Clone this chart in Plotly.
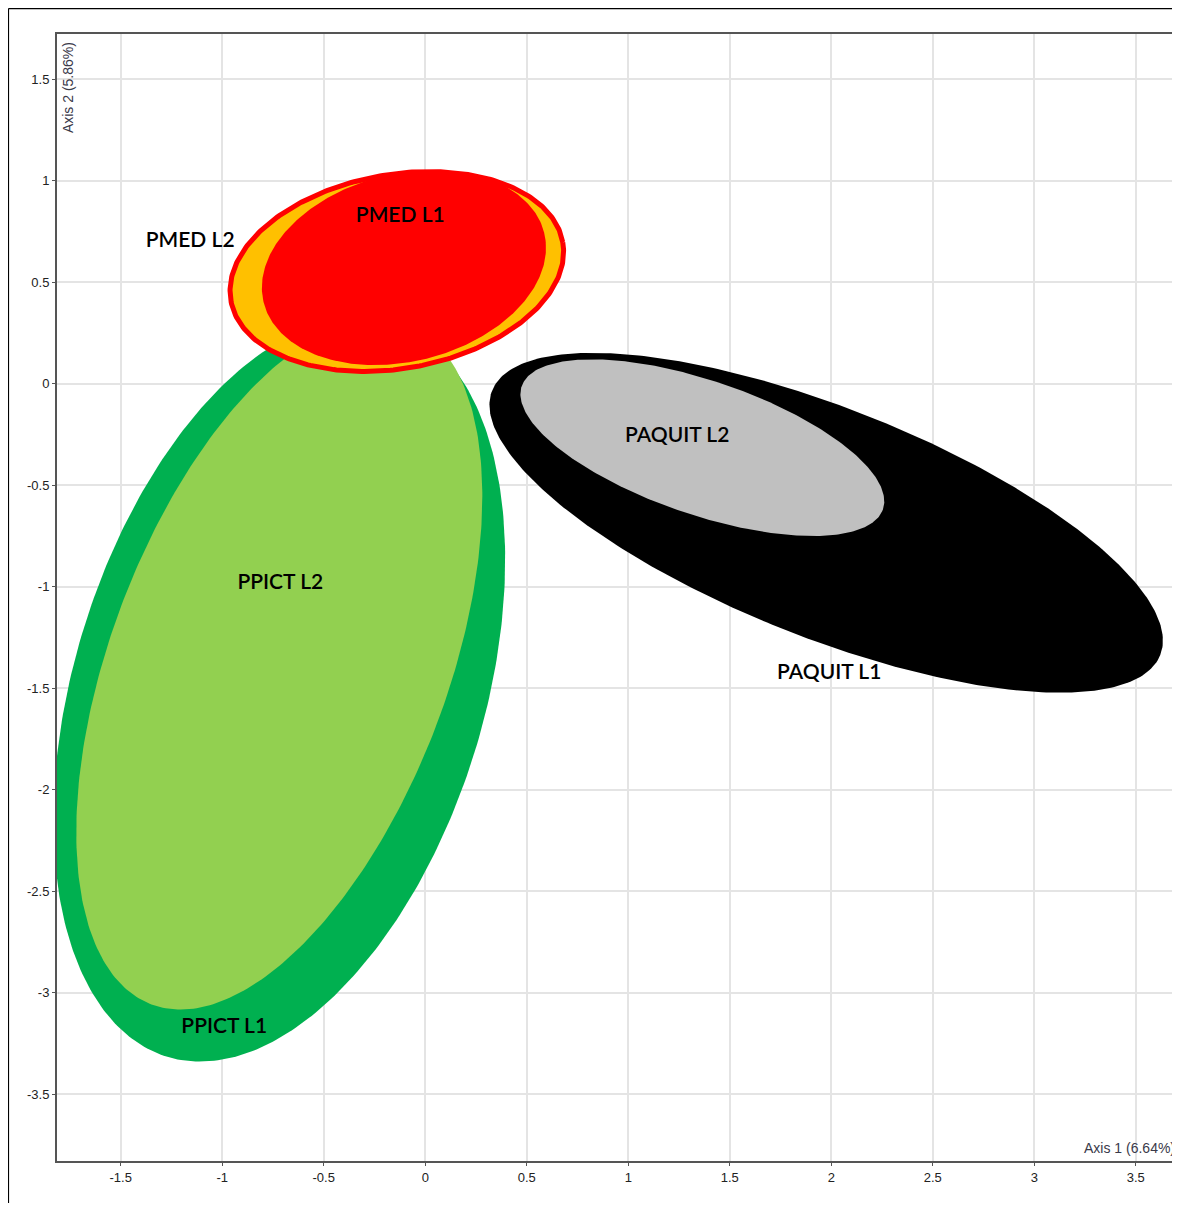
import numpy as np
import plotly.graph_objects as go

# ---- data: confidence ellipses (centre, semi-axes, rotation) ----
groups = ["PPICT L1", "PPICT L2", "PMED L2", "PMED L1", "PAQUIT L1", "PAQUIT L2"]
center_x = [-0.719, -0.719, -0.140, -0.105, 1.975, 1.365]
center_y = [-1.508, -1.382, 0.553, 0.572, -0.685, -0.315]
semi_major = [1.89, 1.79, 0.830, 0.712, 1.770, 0.940]
semi_minor = [1.01, 0.83, 0.478, 0.462, 0.565, 0.330]
angle_deg = [73.0, 69.4, 10.0, 14.0, -21.6, -18.8]

# ---- labels ----
label_text = ["PPICT L1", "PPICT L2", "PMED L2", "PMED L1", "PAQUIT L1", "PAQUIT L2"]
label_x = [-0.990, -0.714, -1.158, -0.123, 1.990, 1.241]
label_y = [-3.172, -0.985, 0.700, 0.822, -1.428, -0.261]

# ---- axis ticks ----
x_ticks = [-1.5, -1, -0.5, 0, 0.5, 1, 1.5, 2, 2.5, 3, 3.5]
y_ticks = [1.5, 1, 0.5, 0, -0.5, -1, -1.5, -2, -2.5, -3, -3.5]
x_title = "Axis 1 (6.64%)"
y_title = "Axis 2 (5.86%)"

# ---- styles ----
fill_color = {"PPICT L1": "#00B050", "PPICT L2": "#92D050", "PMED L2": "#FFC000",
              "PMED L1": "#FF0000", "PAQUIT L1": "#000000", "PAQUIT L2": "#C0C0C0"}
line_style = {"PMED L2": ("#FF0000", 5)}

fig = go.Figure()
t = np.linspace(0, 2 * np.pi, 361)
for g, cx, cy, a, b, ang in zip(groups, center_x, center_y, semi_major, semi_minor, angle_deg):
    th = np.deg2rad(ang)
    ex = cx + a * np.cos(t) * np.cos(th) - b * np.sin(t) * np.sin(th)
    ey = cy + a * np.cos(t) * np.sin(th) + b * np.sin(t) * np.cos(th)
    lc, lw = line_style.get(g, (fill_color[g], 0))
    fig.add_trace(go.Scatter(x=ex, y=ey, mode="lines", fill="toself",
                             fillcolor=fill_color[g],
                             line=dict(color=lc, width=lw),
                             hoverinfo="skip", showlegend=False, name=g))

fig.add_trace(go.Scatter(x=label_x, y=label_y, mode="text", text=label_text,
                         textfont=dict(family="Lato", size=21, color="#000000", weight=600),
                         hoverinfo="skip", showlegend=False))

x_range = [-1.814, 3.718]
y_range = [-3.829, 1.723]

# dashed zero lines (below the ellipses)
fig.add_shape(type="line", xref="x", yref="y", x0=0, x1=0, y0=y_range[0], y1=y_range[1],
              line=dict(color="#000000", width=1.3, dash="5px,4px"), layer="below")
fig.add_shape(type="line", xref="x", yref="y", x0=x_range[0], x1=x_range[1], y0=0, y1=0,
              line=dict(color="#000000", width=1.3, dash="5px,4px"), layer="below")

# outer frame of the picture (left + top edges)
fig.add_shape(type="line", xref="paper", yref="paper", x0=-0.0432, x1=1.02, y0=1.0226, y1=1.0226,
              line=dict(color="#000000", width=1.2))
fig.add_shape(type="line", xref="paper", yref="paper", x0=-0.0432, x1=-0.0432, y0=1.0226, y1=-0.1,
              line=dict(color="#000000", width=1.2))

axis_font = dict(family="Arial", size=13, color="#222222")
fig.update_layout(
    width=1172, height=1195,
    margin=dict(l=49, r=0, t=26, b=42),
    plot_bgcolor="#FFFFFF", paper_bgcolor="#FFFFFF",
    hovermode=False,
    xaxis=dict(range=x_range, tickvals=x_ticks, ticktext=[f"{v:g}" for v in x_ticks],
               showgrid=True, gridcolor="#E4E4E4", gridwidth=2, zeroline=False,
               showline=True, linecolor="#555555", linewidth=2, mirror=True,
               ticks="outside", ticklen=3, tickcolor="#555555", tickfont=axis_font),
    yaxis=dict(range=y_range, tickvals=y_ticks, ticktext=[f"{v:g}" for v in y_ticks],
               showgrid=True, gridcolor="#E4E4E4", gridwidth=2, zeroline=False,
               showline=True, linecolor="#555555", linewidth=2,
               ticks="outside", ticklen=3, tickcolor="#555555", tickfont=axis_font),
    annotations=[
        dict(text=y_title, xref="paper", yref="paper", x=0.0098, y=0.952, textangle=-90,
             showarrow=False, font=dict(family="Arial", size=14, color="#3a3a4a"),
             xanchor="center", yanchor="middle"),
        dict(text=x_title, xref="paper", yref="paper", x=0.9973, y=0.0115,
             showarrow=False, font=dict(family="Arial", size=14, color="#3a3a4a"),
             xanchor="right", yanchor="middle"),
    ],
)

fig.write_html("out.html")
